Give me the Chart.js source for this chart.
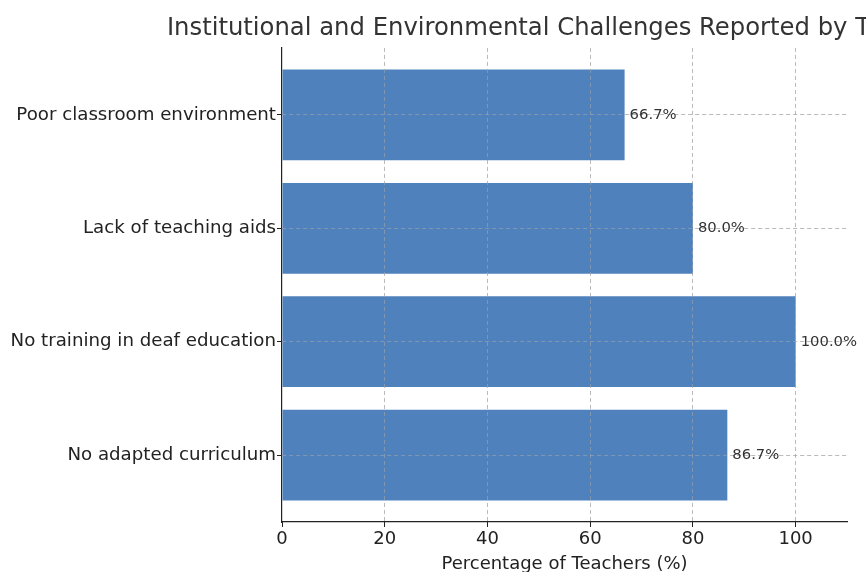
<!DOCTYPE html>
<html>
<head>
<meta charset="utf-8">
<script src="https://cdn.jsdelivr.net/npm/chart.js@4/dist/chart.umd.min.js"></script>
<style>
  html, body { margin: 0; padding: 0; background: #fff; overflow: hidden; }
  #wrap { width: 866px; height: 572px; position: relative; }
</style>
</head>
<body>
<div id="wrap"><canvas id="c" width="866" height="572"></canvas></div>
<script>
const categories = [
  "Poor classroom environment",
  "Lack of teaching aids",
  "No training in deaf education",
  "No adapted curriculum"
];
const percentages = [66.7, 80.0, 100.0, 86.7];
const xTickValues = [0, 20, 40, 60, 80, 100];

const FONT = "'DejaVu Sans', sans-serif";
const gridColor = 'rgba(170,170,170,0.55)';

const points = categories.map((c, i) => ({ x: percentages[i], y: i }));

const titleOverArea = {
  id: 'titleOverArea',
  afterLayout(chart) {
    const t = chart.titleBlock;
    if (!t) return;
    const cx = (chart.chartArea.left + chart.chartArea.right) / 2;
    t.left = cx - 600;
    t.right = cx + 600;
    t.width = 1200;
  }
};

const gridOnTop = {
  id: 'gridOnTop',
  afterDatasetsDraw(chart) {
    const ctx = chart.ctx;
    chart.scales.x.drawGrid(chart.chartArea);
    chart.scales.y.drawGrid(chart.chartArea);
    const meta = chart.getDatasetMeta(0);
    ctx.save();
    ctx.font = "14.8px " + FONT;
    ctx.fillStyle = '#333';
    ctx.textAlign = 'left';
    ctx.textBaseline = 'middle';
    meta.data.forEach((bar, i) => {
      ctx.fillText(percentages[i].toFixed(1) + '%', bar.x + 5, bar.y);
    });
    ctx.restore();
  }
};

new Chart(document.getElementById('c'), {
  type: 'bar',
  data: {
    datasets: [{
      data: points,
      backgroundColor: '#4f81bd',
      borderWidth: 0,
      barPercentage: 0.8,
      categoryPercentage: 1.0
    }]
  },
  options: {
    indexAxis: 'y',
    responsive: false,
    animation: false,
    layout: { padding: { left: 0, right: 19, top: 0, bottom: 0 } },
    plugins: {
      legend: { display: false },
      tooltip: { enabled: false },
      title: {
        display: true,
        fullSize: false,
        align: 'center',
        text: 'Institutional and Environmental Challenges Reported by Teachers',
        color: '#333',
        font: { family: FONT, size: 24.3, weight: 'normal' },
        padding: { top: 14, bottom: 4.8 }
      }
    },
    scales: {
      x: {
        type: 'linear',
        min: 0,
        max: 110,
        afterBuildTicks(scale) { scale.ticks = xTickValues.map(v => ({ value: v })); },
        afterFit(scale) { scale.height = 50; },
        ticks: {
          color: '#222',
          font: { family: FONT, size: 18 },
          padding: 2,
          maxRotation: 0
        },
        grid: {
          color: (c) => (c.tick && c.tick.value === 0) ? 'rgba(0,0,0,0)' : gridColor,
          lineWidth: 1,
          tickColor: '#222',
          tickLength: 5,
          tickWidth: 1,
          tickBorderDash: []
        },
        border: { display: true, color: '#222', width: 1.2, dash: [4, 3] },
        title: {
          display: true,
          text: 'Percentage of Teachers (%)',
          color: '#222',
          font: { family: FONT, size: 18, lineHeight: 0.9 },
          padding: { top: 0, bottom: 0 }
        }
      },
      y: {
        type: 'linear',
        reverse: true,
        offset: false,
        min: -0.59,
        max: 3.59,
        afterBuildTicks(scale) { scale.ticks = categories.map((c, i) => ({ value: i })); },
        afterFit(scale) { scale.width = 282; },
        ticks: {
          color: '#222',
          font: { family: FONT, size: 18.2 },
          padding: 1,
          callback: (v) => categories[v] ?? ''
        },
        grid: {
          offset: false,
          color: gridColor,
          lineWidth: 1,
          tickColor: '#222',
          tickLength: 5,
          tickWidth: 1,
          tickBorderDash: []
        },
        border: { display: true, color: '#222', width: 1.2, dash: [4, 3] }
      }
    }
  },
  plugins: [titleOverArea, gridOnTop]
});
</script>
</body>
</html>
